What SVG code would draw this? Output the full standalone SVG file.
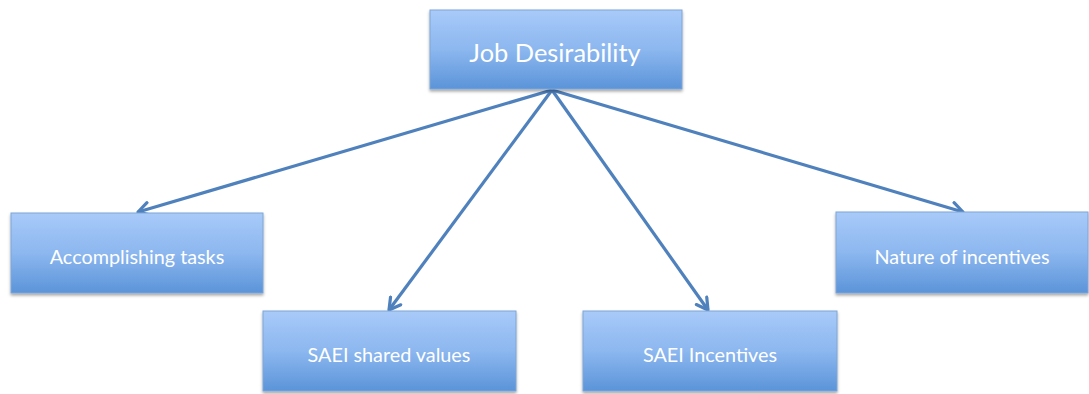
<svg xmlns="http://www.w3.org/2000/svg" width="1089" height="394" viewBox="0 0 1089 394">
<style>
.box{fill:url(#g);stroke:#7ea6d6;stroke-width:1;filter:url(#sh)}
.lbl{fill:#ffffff;font-family:Lato,"Open Sans","Liberation Sans",sans-serif;text-anchor:middle;dominant-baseline:central}
.conn{stroke:#4f81bd;stroke-width:3.2;fill:none;marker-end:url(#ah)}
</style>
<defs>
<linearGradient id="g" x1="0" y1="0" x2="0" y2="1">
<stop offset="0" stop-color="#a8caf9"/>
<stop offset="0.5" stop-color="#8cb7ef"/>
<stop offset="1" stop-color="#5b94d9"/>
</linearGradient>
<filter id="sh" x="-10%" y="-10%" width="120%" height="130%">
<feDropShadow dx="0" dy="2" stdDeviation="1.5" flood-color="#000" flood-opacity="0.35"/>
</filter>
<marker id="ah" viewBox="0 0 10 10" refX="8" refY="5" markerWidth="5" markerHeight="5" orient="auto" markerUnits="strokeWidth">
<path d="M1,1 L8,5 L1,9" fill="none" stroke="#4f81bd" stroke-width="2" stroke-linecap="round" stroke-linejoin="round"/>
</marker>
</defs>
<g id="connectors">
<line class="conn" x1="552" y1="90" x2="138" y2="212"/>
<line class="conn" x1="552" y1="90" x2="389" y2="310"/>
<line class="conn" x1="552" y1="90" x2="708" y2="310"/>
<line class="conn" x1="552" y1="90" x2="963" y2="212"/>
</g>
<g id="job-desirability">
<rect class="box" x="430" y="10" width="252" height="79"/>
<text class="lbl" x="555" y="52" font-size="25.4">Job Desirability</text>
</g>
<g id="accomplishing-tasks">
<rect class="box" x="11" y="213" width="252" height="80"/>
<text class="lbl" x="137" y="256" font-size="19.8">Accomplishing tasks</text>
</g>
<g id="saei-shared-values">
<rect class="box" x="263" y="311" width="253" height="80"/>
<text class="lbl" x="389" y="354" font-size="19.8">SAEI shared values</text>
</g>
<g id="saei-incentives">
<rect class="box" x="583" y="311" width="254" height="80"/>
<text class="lbl" x="710" y="354" font-size="19.8">SAEI Incentives</text>
</g>
<g id="nature-of-incentives">
<rect class="box" x="836" y="212" width="252" height="81"/>
<text class="lbl" x="962" y="256" font-size="19.8">Nature of incentives</text>
</g>
</svg>
